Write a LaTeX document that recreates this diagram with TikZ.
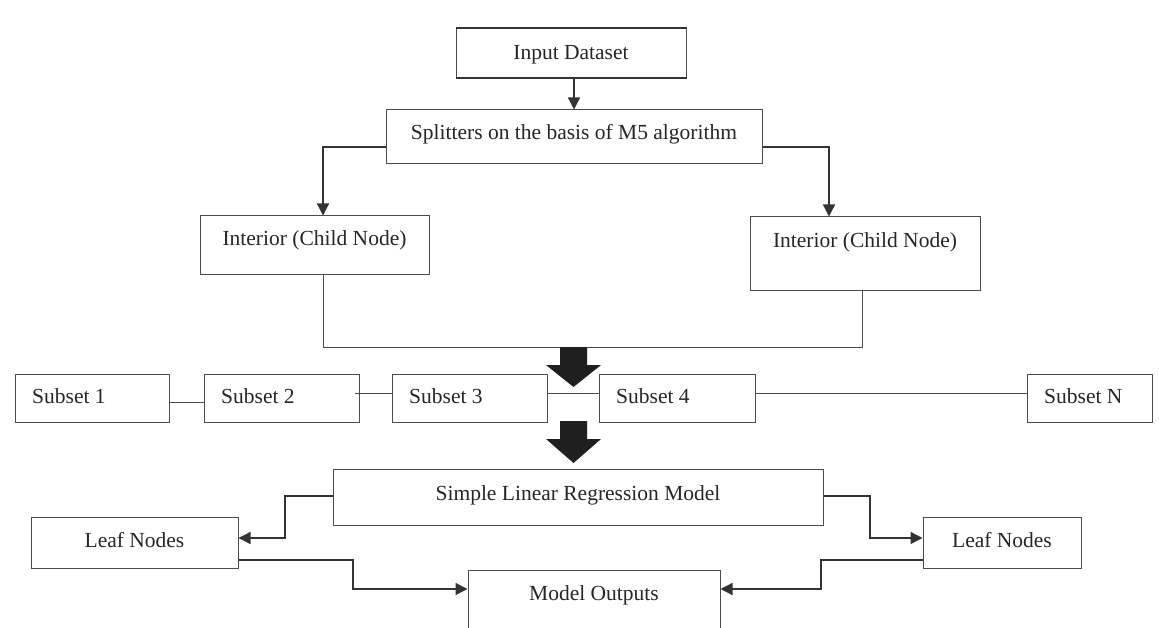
\documentclass[tikz,border=0pt]{standalone}
\usepackage{fontspec}
\setmainfont{Liberation Serif}
\usetikzlibrary{fit,arrows.meta}
\begin{document}
\begin{tikzpicture}[x=1pt,y=-1pt,
  box/.style={draw=black!70,line width=1pt,inner sep=0pt},
  txt/.style={inner sep=0pt,font=\fontsize{21.5}{24}\selectfont,text=black!85},
  conn/.style={draw=black!70,line width=1pt},
  arr/.style={draw=black!80,line width=1.3pt,-{Triangle[length=12pt,width=12pt]}},
  block/.style={fill=black!88,draw=none}]
\useasboundingbox (0,0) rectangle (1159,628);
\fill[white] (0,0) rectangle (1159,628);
\clip (0,0) rectangle (1159,628);
% boxes
\node[box,fit={(456,29) (686,78)}] (in) {};
\draw[black!80,line width=2pt] (in.north west) -- (in.north east);
\draw[black!80,line width=2pt] (in.south west) -- (in.south east);
\node[txt,anchor=base] (int) at (571,60) {Input Dataset};
\node[box,fit={(386,110) (762,164)}] (sp) {};
\node[txt,anchor=base] (spt) at (574,140) {Splitters on the basis of M5 algorithm};
\node[box,fit={(200,216) (429,275)}] (il) {};
\node[txt,anchor=base] (ilt) at (314.5,246) {Interior (Child Node)};
\node[box,fit={(750,217) (980,291)}] (ir) {};
\node[txt,anchor=base] (irt) at (865,248) {Interior (Child Node)};
\node[box,fit={(15,374) (169,422)}] (s1) {};
\node[txt,anchor=base west] (s1t) at (32,403) {Subset 1};
\node[box,fit={(204,374) (359,422)}] (s2) {};
\node[txt,anchor=base west] (s2t) at (221,403) {Subset 2};
\node[box,fit={(392,374) (547,422)}] (s3) {};
\node[txt,anchor=base west] (s3t) at (409,403) {Subset 3};
\node[box,fit={(599,374) (755,422)}] (s4) {};
\node[txt,anchor=base west] (s4t) at (616,403) {Subset 4};
\node[box,fit={(1027,374) (1152,422)}] (sn) {};
\node[txt,anchor=base west] (snt) at (1044,403) {Subset N};
\node[box,fit={(333,469) (823,525)}] (slr) {};
\node[txt,anchor=base] (slrt) at (578,500) {Simple Linear Regression Model};
\node[box,fit={(31,517) (238,568)}] (ll) {};
\node[txt,anchor=base] (llt) at (134.5,547) {Leaf Nodes};
\node[box,fit={(923,517) (1081,568)}] (lr) {};
\node[txt,anchor=base] (lrt) at (1002,547) {Leaf Nodes};
\node[box,fit={(468,570) (720,680)}] (mo) {};
\node[txt,anchor=base] (mot) at (594,600) {Model Outputs};
% coordinates
\coordinate (c1) at (574,78);
\coordinate (c2) at (574,110);
% connectors
\draw[arr] (in.south -| c1) -- (sp.north -| c2);
\draw[arr] (sp.west |- 0,147) -| (il.north -| 323,0);
\draw[arr] (sp.east |- 0,147) -| (ir.north -| 829,0);
\draw[conn] (il.south -| 323,0) -- (323,347) -| (ir.south -| 862,0);
\draw[conn] (s1.east |- 0,402) -- (s2.west |- 0,402);
\draw[conn] (355,393) -- (s3.west |- 0,393);
\draw[conn] (s3.east |- 0,393) -- (s4.west |- 0,393);
\draw[conn] (s4.east |- 0,393) -- (sn.west |- 0,393);
% block arrows
\fill[block] (560,347) -- (587,347) -- (587,365) -- (601,365) -- (573.5,387) -- (546,365) -- (560,365) -- cycle;
\fill[block] (560,421) -- (587,421) -- (587,439) -- (601,439) -- (573.5,463) -- (546,439) -- (560,439) -- cycle;
% bottom connectors
\draw[arr] (slr.west |- 0,496) -- (285,496) |- (ll.east |- 0,538);
\draw[arr] (slr.east |- 0,496) -- (870,496) |- (lr.west |- 0,538);
\draw[arr] (ll.east |- 0,560) -- (353,560) |- (mo.west |- 0,589);
\draw[arr] (lr.west |- 0,560) -- (821,560) |- (mo.east |- 0,589);
\end{tikzpicture}
\end{document}
